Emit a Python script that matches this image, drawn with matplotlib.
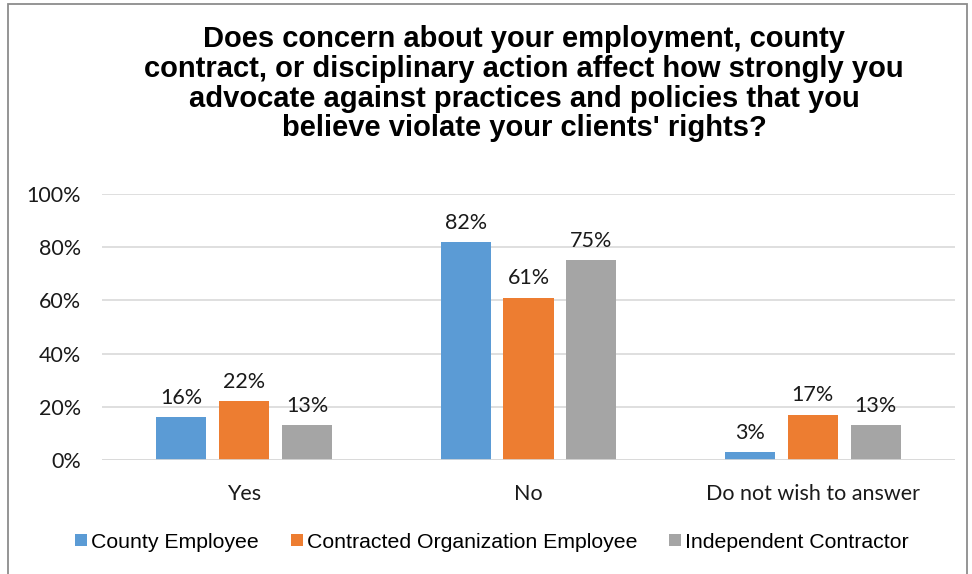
import numpy as np
import matplotlib.pyplot as plt
from matplotlib.patches import Rectangle

# survey answers, share of respondents per group
categories = ['Yes', 'No', 'Do not wish to answer']
series = ['County Employee', 'Contracted Organization Employee', 'Independent Contractor']
county = [0.16, 0.82, 0.03]
contracted = [0.22, 0.61, 0.17]
independent = [0.13, 0.75, 0.13]
colors = ['#5B9BD5', '#ED7D31', '#A5A5A5']

title = ("Does concern about your employment, county\n"
         "contract, or disciplinary action affect how strongly you\n"
         "advocate against practices and policies that you\n"
         "believe violate your clients' rights?")

fig = plt.figure(figsize=(9.72, 5.74), dpi=100)
ax = fig.add_axes([102/972, 1 - 460/574, 853/972, 266/574])

x = np.arange(len(categories))
width = 0.176
step = 0.221
values = [county, contracted, independent]

for i, (name, vals) in enumerate(zip(series, values)):
    pos = x + (i - 1) * step
    bars = ax.bar(pos, vals, width, color=colors[i], label=name, zorder=3)
    for b, v in zip(bars, vals):
        ax.text(b.get_x() + b.get_width() / 2, v + 0.035, '{:.0f}%'.format(v * 100),
                ha='center', va='bottom', fontsize=15.5, family='Lato', color='#1a1a1a')

ax.set_xlim(-0.5, 2.5)
ax.set_ylim(0, 1.0)
ax.set_yticks(np.arange(0, 1.01, 0.2))
ax.set_yticklabels(['{:.0f}%'.format(t * 100) for t in np.arange(0, 1.01, 0.2)])
ax.set_xticks(x)
ax.set_xticklabels(categories)
for lab in ax.get_xticklabels() + ax.get_yticklabels():
    lab.set_family('Lato')
    lab.set_fontsize(15.5)
    lab.set_color('#1a1a1a')
ax.tick_params(axis='both', length=0)
ax.tick_params(axis='y', pad=15)
ax.tick_params(axis='x', pad=17)
ax.yaxis.grid(True, color='#D9D9D9', linewidth=1.2, zorder=0)
ax.axhline(0, color='#D9D9D9', linewidth=1.2, zorder=4)
for s in ax.spines.values():
    s.set_visible(False)

fig.text(524/972, 1 - 25/574, title, ha='center', va='top', fontsize=21,
         fontweight='bold', family='Liberation Sans', linespacing=1.08)

leg = fig.legend(loc='center', bbox_to_anchor=(492/972, 1 - 542/574), ncol=3,
                 frameon=False, handlelength=0.55, handleheight=0.55,
                 handletextpad=0.2, columnspacing=1.5,
                 prop={'family': 'Liberation Sans', 'size': 15.3})

# chart area border
fig.patches.append(Rectangle((8/972, -0.1), 959/972, 1.1 - 4/574,
                             transform=fig.transFigure, fill=False,
                             edgecolor='#8C8C8C', linewidth=1.3))

fig.savefig('out.png', dpi=100)
